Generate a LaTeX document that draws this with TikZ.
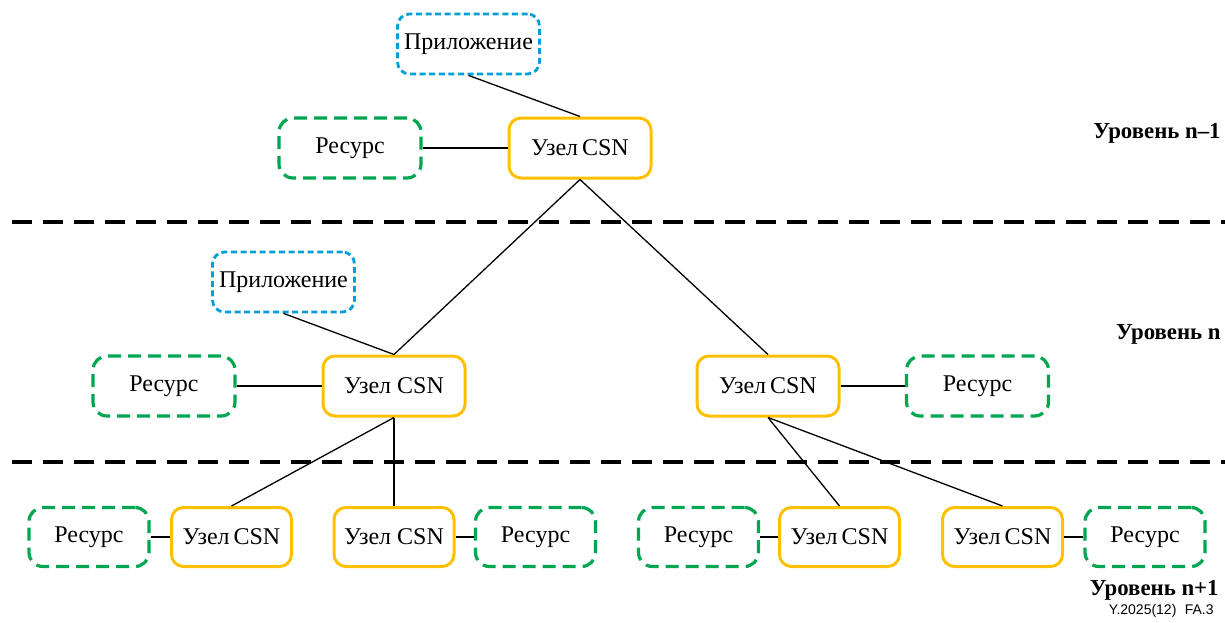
\documentclass[tikz,border=0pt]{standalone}
\usepackage{fontspec}
\setmainfont{Liberation Serif}
\newfontfamily\footfont{Liberation Sans}
\definecolor{csnyellow}{RGB}{255,192,0}
\definecolor{resgreen}{RGB}{0,166,81}
\definecolor{appblue}{RGB}{0,159,218}
\tikzset{
  boxbase/.style={rounded corners=6pt, align=center, inner sep=2pt, font=\fontsize{12}{14}\selectfont},
  csn/.style={boxbase, draw=csnyellow, line width=1.5pt, minimum width=71pt, minimum height=30pt},
  res/.style={boxbase, draw=resgreen, line width=1.6pt, dash pattern=on 6.5pt off 3.5pt, minimum width=71pt, minimum height=30pt, rounded corners=7pt},
  app/.style={boxbase, draw=appblue, line width=1.4pt, dash pattern=on 3pt off 1.8pt, minimum width=71pt, minimum height=30pt},
  small/.style={minimum width=60pt, minimum height=29.5pt},
  link/.style={draw=black, line width=0.65pt},
  levelsep/.style={draw=black, line width=2pt, dash pattern=on 10pt off 5.5pt},
  levellabel/.style={anchor=east, font=\fontsize{11.4}{13}\selectfont\bfseries, inner sep=0pt}
}
\begin{document}
\begin{tikzpicture}[x=0.5pt, y=-0.5pt]
\useasboundingbox (0,0) rectangle (1225,622);

% level n-1
\node[app] (app1) at (468.5,44) {Приложение};
\node[res] (res1) at (350,148) {Ресурс};
\node[csn] (csn1) at (580,148) {Узел\,CSN};
\node[levellabel] (lvl1) at (1221,133) {Уровень n--1};

% separator between levels n-1 and n
\draw[levelsep] (12,222) -- (1225,222);

% level n
\node[app] (app2) at (283.5,282) {Приложение};
\node[res] (res2) at (164,386) {Ресурс};
\node[csn] (csn2) at (394,386) {Узел CSN};
\node[csn] (csn3) at (768,386) {Узел\,CSN};
\node[res] (res3) at (977.5,386) {Ресурс};
\node[levellabel] (lvl2) at (1221,334) {Уровень n};

% separator between levels n and n+1
\draw[levelsep] (12,462) -- (1225,462);

% level n+1
\node[res, small] (res4) at (89,537) {Ресурс};
\node[csn, small] (csn4) at (231.5,537) {Узел\,CSN};
\node[csn, small] (csn5) at (394,537) {Узел CSN};
\node[res, small] (res5) at (535.5,537) {Ресурс};
\node[res, small] (res6) at (698.5,537) {Ресурс};
\node[csn, small] (csn6) at (839.5,537) {Узел\,CSN};
\node[csn, small] (csn7) at (1002.5,537) {Узел\,CSN};
\node[res, small] (res7) at (1145,537) {Ресурс};
\node[levellabel] (lvl3) at (1219,590) {Уровень n+1};
\node[anchor=east, inner sep=0pt, font=\footfont\fontsize{7}{8}\selectfont] (fig) at (1214,611) {Y.2025(12)\hspace{0.6em}FA.3};

% links
\draw[link] (app1.south) -- (csn1.north);
\draw[link] (res1.east) -- (csn1.west);
\draw[link] (csn1.south) -- (csn2.north);
\draw[link] (csn1.south) -- (csn3.north);
\draw[link] (app2.south) -- (csn2.north);
\draw[link] (res2.east) -- (csn2.west);
\draw[link] (csn3.east) -- (res3.west);
\draw[link] (csn2.south) -- (csn4.north);
\draw[link] (csn2.south) -- (csn5.north);
\draw[link] (csn3.south) -- (csn6.north);
\draw[link] (csn3.south) -- (csn7.north);
\draw[link] (res4.east) -- (csn4.west);
\draw[link] (csn5.east) -- (res5.west);
\draw[link] (res6.east) -- (csn6.west);
\draw[link] (csn7.east) -- (res7.west);
\end{tikzpicture}
\end{document}
